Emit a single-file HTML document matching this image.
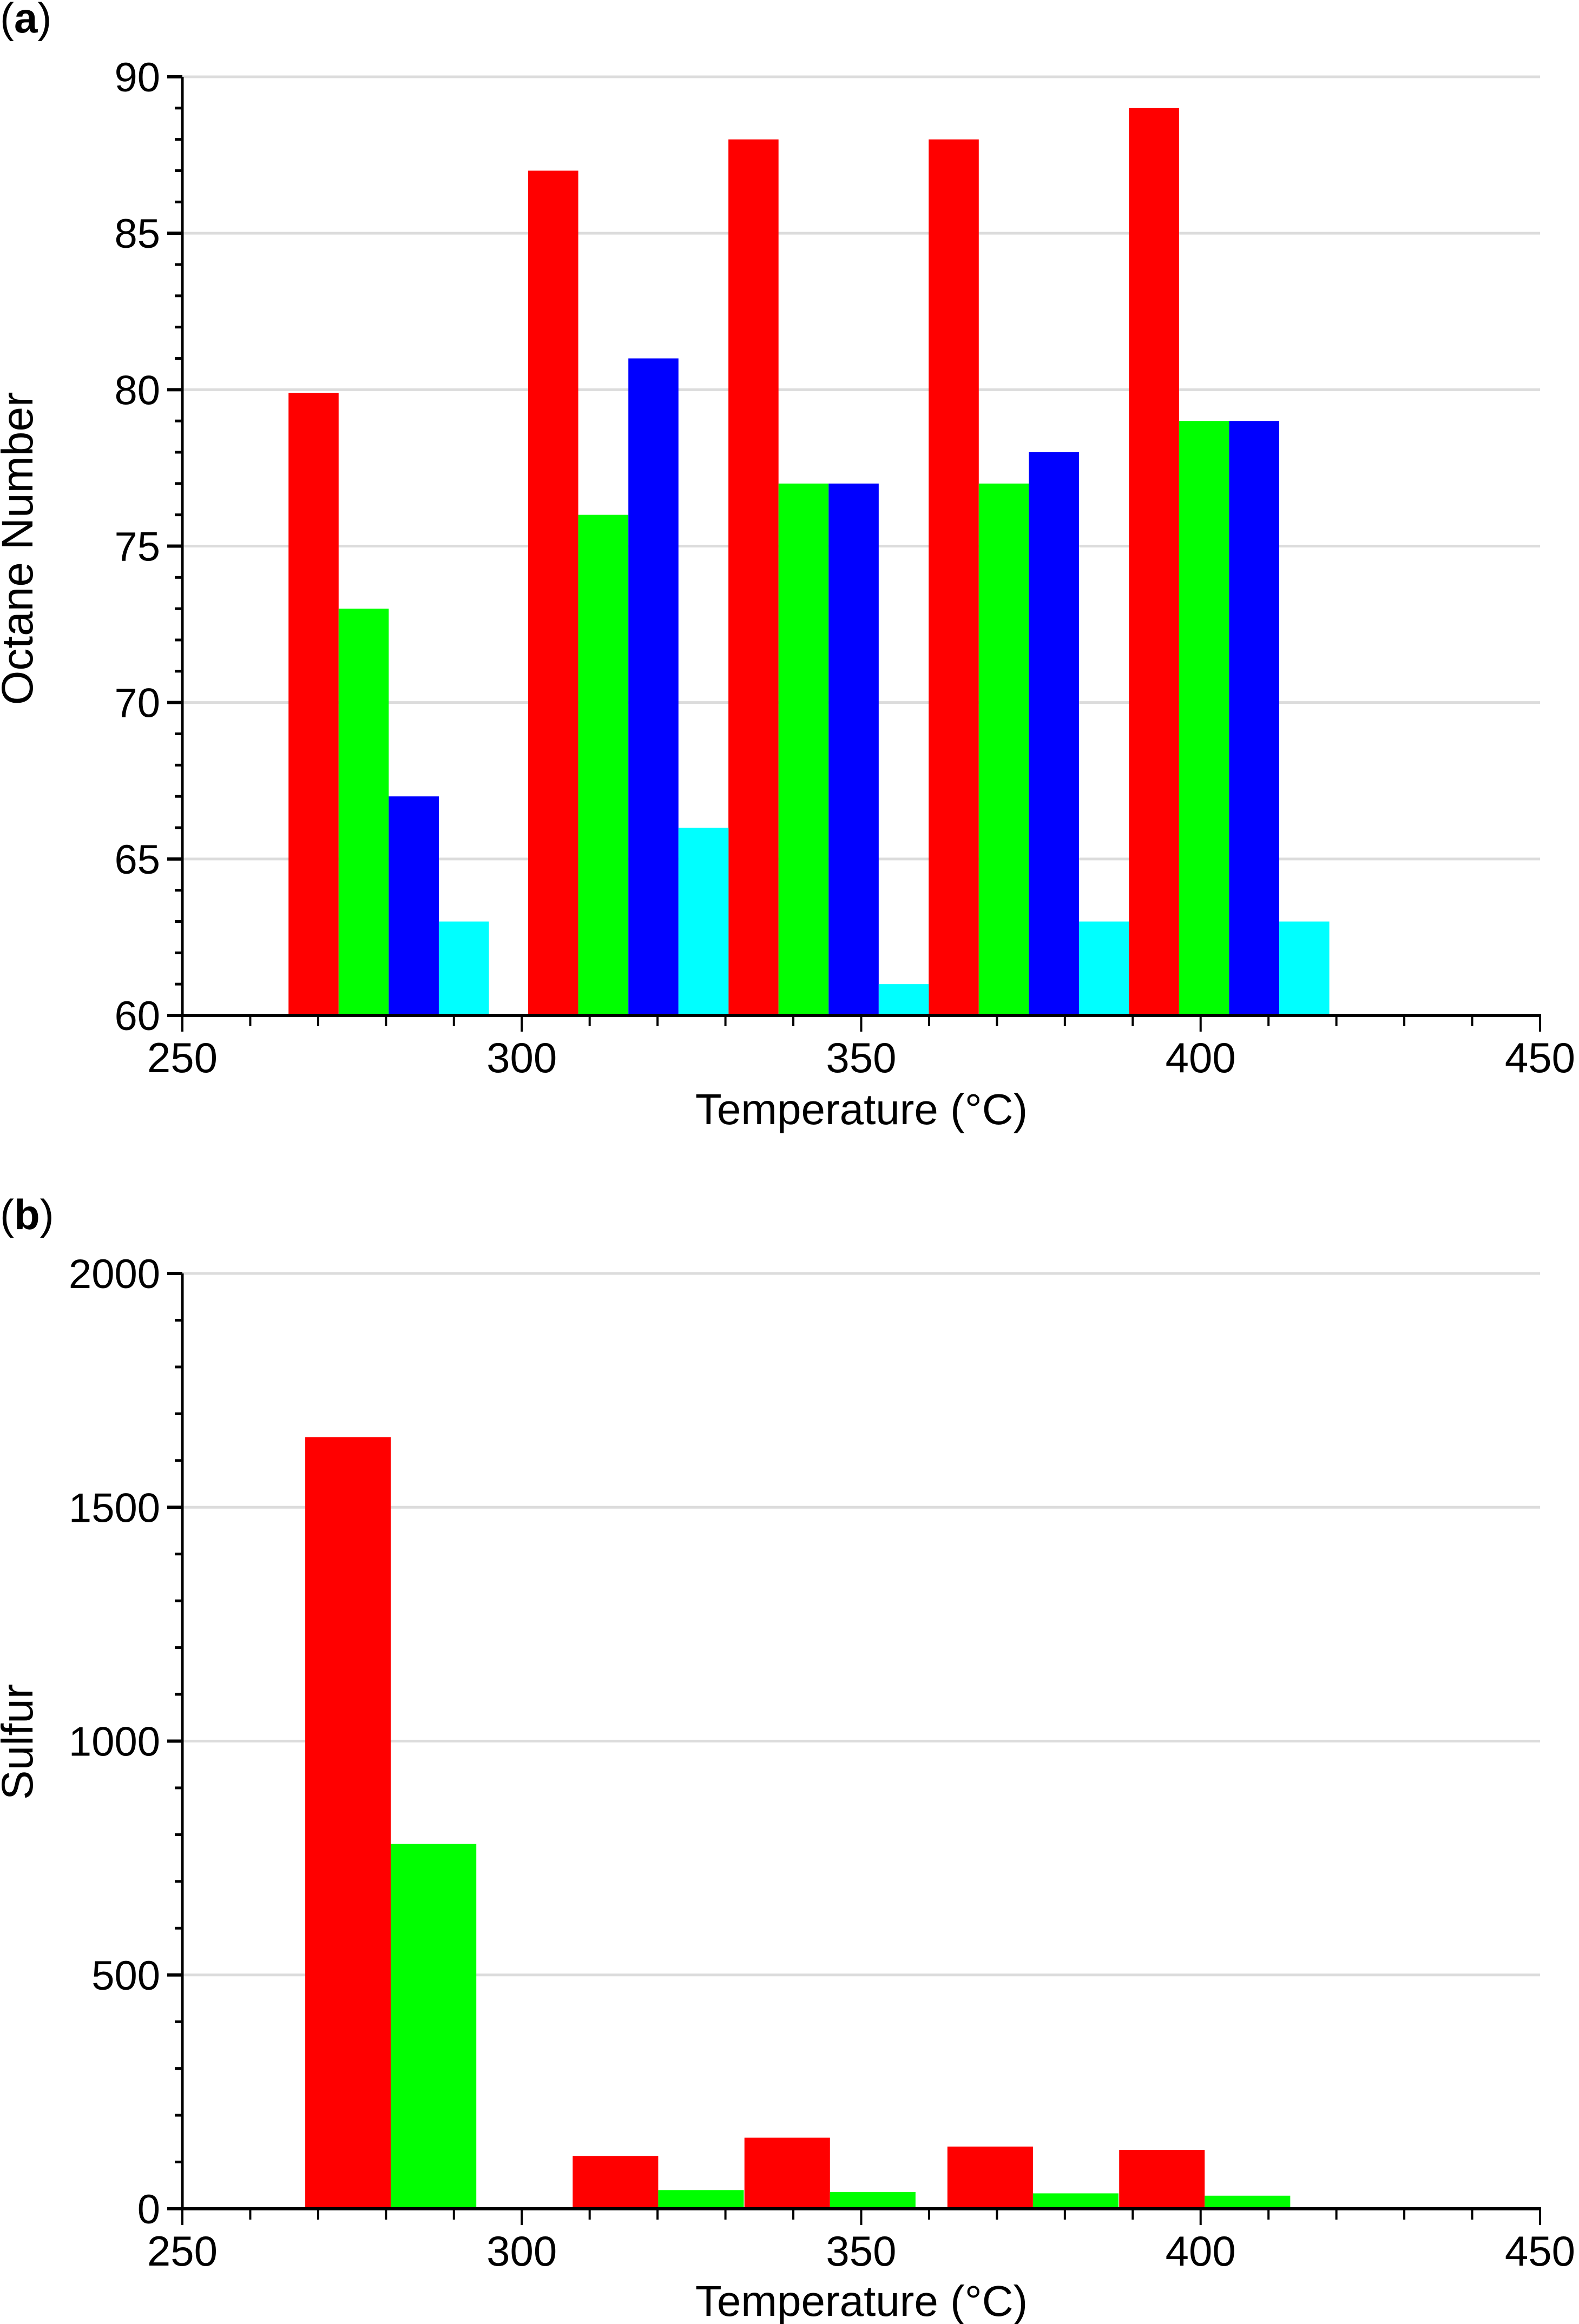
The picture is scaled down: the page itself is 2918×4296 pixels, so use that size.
<!DOCTYPE html>
<html><head><meta charset="utf-8"><style>
html,body{margin:0;padding:0;background:#fff;}
svg{display:block;font-family:"Liberation Sans",sans-serif;}
</style></head><body>
<svg id="chart" width="2918" height="4296" viewBox="0 0 2918 4296" xmlns="http://www.w3.org/2000/svg">
<text x="0" y="60" font-size="78">(<tspan font-weight="bold">a</tspan>)</text>
<text x="0" y="2272" font-size="78">(<tspan font-weight="bold">b</tspan>)</text>
<g id="pa"></g>
<g id="pb"></g>
</svg>
<script>
// Panel (a) data
const aCenters = [280.4, 315.7, 345.2, 374.7, 404.2];
const aRed = [79.9, 87, 88, 88, 89];
const aGreen = [73, 76, 77, 77, 79];
const aBlue = [67, 81, 77, 78, 79];
const aCyan = [63, 66, 61, 63, 63];
const aYTicks = [60, 65, 70, 75, 80, 85, 90];
// Panel (b) data
const bCenters = [280.7, 320.1, 345.4, 375.3, 400.6];
const bRed = [1650, 113, 152, 133, 126];
const bGreen = [780, 40, 36, 33, 28];
const bYTicks = [0, 500, 1000, 1500, 2000];
const xTicks = [250, 300, 350, 400, 450];

const NS = "http://www.w3.org/2000/svg";
function mk(parent, tag, attrs, txt){
  const e = document.createElementNS(NS, tag);
  for (const k in attrs) e.setAttribute(k, attrs[k]);
  if (txt !== undefined) e.textContent = txt;
  parent.appendChild(e); return e;
}
const X0 = 337, X1 = 2846;
function xs(v){ return X0 + (v - 250) / 200 * (X1 - X0); }

function panel(g, yTop, yBot, yMin, yMax, yTicks, minorStep, series, colors, centers, barW, yTitle, yTitleY, xLabY, xTitleY, pfx){
  const ys = v => yBot - (v - yMin) / (yMax - yMin) * (yBot - yTop);
  yTicks.forEach(t => {
    if (t === yMin) return;
    const l = mk(g, 'line', {x1: X0, x2: X1, y1: ys(t), y2: ys(t), stroke: '#dcdcdc', 'stroke-width': 5});
    
    
  });
  const n = series.length;
  series.forEach((vals, si) => {
    vals.forEach((v, i) => {
      const left = centers[i] - n * barW / 2 + si * barW;
      const r = mk(g, 'rect', {x: xs(left), y: ys(v), width: xs(left + barW) - xs(left), height: yBot - ys(v), fill: colors[si]});
      
      
    });
  });
  const ya = mk(g, 'line', {x1: X0, x2: X0, y1: yTop, y2: yBot, stroke: '#000', 'stroke-width': 5});
  
  
  for (let v = yMin; v <= yMax + 1e-9; v += minorStep) {
    const major = yTicks.indexOf(Math.round(v)) >= 0;
    mk(g, 'line', {x1: X0 - (major ? 28 : 14), x2: X0, y1: ys(v), y2: ys(v), stroke: '#000', 'stroke-width': major ? 6 : 5});
  }
  yTicks.forEach(t => {
    const tx = mk(g, 'text', {x: 296, y: ys(t) + 27, 'font-size': 76, 'text-anchor': 'end'}, String(t));
    
    
  });
  const xa = mk(g, 'line', {x1: X0 - 4, x2: X1 + 2, y1: yBot, y2: yBot, stroke: '#000', 'stroke-width': 6});
  
  
  for (let v = 250; v <= 450; v += 10) {
    const major = v % 50 === 0;
    mk(g, 'line', {x1: xs(v), x2: xs(v), y1: yBot, y2: yBot + (major ? 30 : 20), stroke: '#000', 'stroke-width': 4});
  }
  xTicks.forEach(t => {
    const tx = mk(g, 'text', {x: xs(t), y: xLabY, 'font-size': 78, 'text-anchor': 'middle'}, String(t));
    
    
  });
  const xt = mk(g, 'text', {x: 1592, y: xTitleY, 'font-size': 80, 'text-anchor': 'middle'}, 'Temperature (°C)');
  
  
  const yt = mk(g, 'text', {x: 0, y: 0, 'font-size': 82, 'text-anchor': 'middle', transform: 'translate(60,' + yTitleY + ') rotate(-90)'}, yTitle);
  
  
}

panel(document.getElementById('pa'), 142, 1877, 60, 90, aYTicks, 1,
  [aRed, aGreen, aBlue, aCyan], ['#ff0000', '#00ff00', '#0000ff', '#00ffff'],
  aCenters, 7.38, 'Octane Number', 1014, 1982, 2078, 'octane');
panel(document.getElementById('pb'), 2354, 4083, 0, 2000, bYTicks, 100,
  [bRed, bGreen], ['#ff0000', '#00ff00'],
  bCenters, 12.6, 'Sulfur', 3220, 4188, 4281, 'sulfur');
</script>
</body></html>
